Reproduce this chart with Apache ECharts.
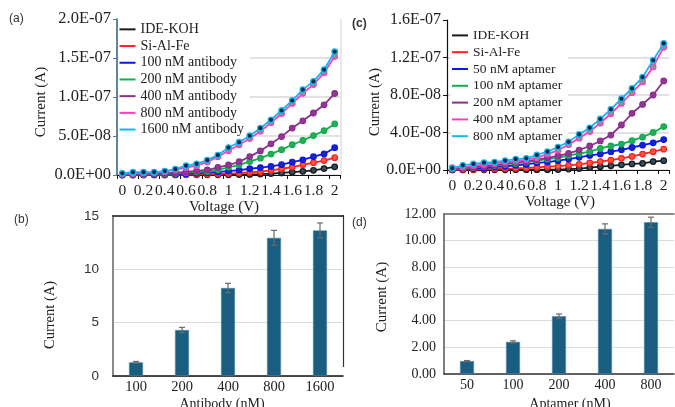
<!DOCTYPE html>
<html>
<head>
<meta charset="utf-8">
<script src="https://cdn.jsdelivr.net/npm/echarts@6/dist/echarts.min.js"></script>
<style>
html,body{margin:0;padding:0;background:#fff;}
#chart{width:675px;height:407px;}
</style>
</head>
<body>
<div id="chart"></div>
<script>
// ---------- DATA ----------
const voltages = ['0','0.1','0.2','0.3','0.4','0.5','0.6','0.7','0.8','0.9','1','1.1','1.2','1.3','1.4','1.5','1.6','1.7','1.8','1.9','2'];
const UNIT = 1e-8; // values below are in units of 1e-8 A

// panel (a)
const antibodyNames = ['IDE-KOH','Si-Al-Fe','100 nM antibody','200 nM antibody','400 nM antibody','800 nM antibody','1600 nM antibody'];
const ideKohA = [0.00,0.00,0.01,0.01,0.01,0.01,0.02,0.02,0.02,0.03,0.03,0.05,0.08,0.12,0.18,0.27,0.38,0.47,0.60,0.82,1.05];
const siAlFeA = [0.01,0.01,0.02,0.02,0.03,0.04,0.05,0.07,0.10,0.14,0.19,0.25,0.32,0.42,0.58,0.80,1.02,1.30,1.58,1.85,2.22];
const ab100 = [0.03,0.05,0.06,0.08,0.10,0.13,0.17,0.22,0.30,0.40,0.50,0.62,0.80,0.95,1.10,1.32,1.65,1.95,2.35,2.70,3.50];
const ab200 = [0.05,0.07,0.09,0.12,0.16,0.22,0.30,0.40,0.45,0.66,0.98,1.30,1.72,2.16,2.68,3.25,3.88,4.42,5.05,5.67,6.55];
const ab400 = [0.10,0.12,0.14,0.17,0.22,0.30,0.40,0.52,0.64,0.98,1.28,1.70,2.36,3.09,4.00,4.92,6.02,6.95,7.95,9.00,10.45];
const ab800 = [0.17,0.22,0.26,0.30,0.43,0.65,0.95,1.20,1.68,2.33,3.10,3.87,4.67,5.60,6.70,7.88,9.18,10.48,11.60,13.10,15.20];
const ab1600 = [0.22,0.35,0.36,0.38,0.50,0.75,1.20,1.43,1.90,2.55,3.52,4.20,5.03,6.00,7.08,8.27,9.55,10.95,12.00,13.50,15.80];

// panel (c)
const aptamerNames = ['IDE-KOH','Si-Al-Fe','50 nM aptamer','100 nM aptamer','200 nM aptamer','400 nM aptamer','800 nM aptamer'];
const ideKohC = [0.01,0.01,0.02,0.02,0.02,0.02,0.03,0.03,0.03,0.04,0.05,0.10,0.15,0.25,0.35,0.45,0.55,0.65,0.70,0.90,1.00];
const siAlFeC = [0.03,0.05,0.08,0.10,0.12,0.15,0.18,0.22,0.28,0.35,0.42,0.50,0.60,0.75,0.90,1.05,1.25,1.45,1.70,1.95,2.22];
const apt50 = [0.05,0.10,0.15,0.20,0.30,0.40,0.50,0.60,0.75,0.85,1.00,1.15,1.35,1.55,1.70,1.95,2.15,2.40,2.65,2.90,3.25];
const apt100 = [0.10,0.15,0.25,0.35,0.45,0.60,0.70,0.85,1.00,1.15,1.30,1.55,1.75,1.95,2.30,2.56,2.77,3.13,3.50,4.00,4.63];
const apt200 = [0.20,0.20,0.30,0.40,0.50,0.70,0.80,0.90,1.10,1.30,1.50,1.78,2.13,2.56,3.10,3.73,4.80,6.05,7.00,8.00,9.50];
const apt400 = [0.25,0.30,0.45,0.60,0.70,0.85,0.95,1.10,1.30,1.70,2.10,2.70,3.40,4.10,5.00,6.00,7.10,8.25,9.40,11.00,13.10];
const apt800 = [0.20,0.50,0.65,0.78,0.85,1.00,1.15,1.25,1.60,1.95,2.45,3.00,3.80,4.50,5.44,6.47,7.60,8.70,9.90,11.70,13.50];

// panel (b)
const antibodyCats = ['100','200','400','800','1600'];
const antibodyCurrent = [1.28,4.31,8.25,12.95,13.65];
const antibodyErr = [0.08,0.25,0.44,0.70,0.70];

// panel (d)
const aptamerCats = ['50','100','200','400','800'];
const aptamerCurrent = [0.97,2.41,4.33,10.88,11.38];
const aptamerErr = [0.04,0.08,0.17,0.38,0.38];

// tick labels
const antibodyYTicks = [0, 5, 10, 15];

// ---------- STYLE ----------
const lineColors = ['#1a1a1a','#ff1f1f','#0a14ff','#0db14b','#8b2f8f','#ff3cc8','#19b4ee'];
const markerFills = ['#2f4f63','#ff5a3c','#1a2a9a','#2ea85a','#93369a','#7f9f78','#0b2a4a'];
const SERIF = '"Liberation Serif","Times New Roman",serif';
const SANS = '"Liberation Sans",Arial,sans-serif';
const barColor = '#195d80';

function sci(v){
  if (Math.abs(v) < 1e-20) return '0.0E+00';
  let e = Math.floor(Math.log10(Math.abs(v)) + 1e-9);
  let s = (v/Math.pow(10,e)).toFixed(1);
  if (s === '10.0'){ s = '1.0'; e += 1; }
  return s + 'E' + (e < 0 ? '-' : '+') + String(Math.abs(e)).padStart(2,'0');
}

const seriesA = [ideKohA, siAlFeA, ab100, ab200, ab400, ab800, ab1600];
const seriesC = [ideKohC, siAlFeC, apt50, apt100, apt200, apt400, apt800];

function lineSeries(names, arrs, axisIdx){
  return arrs.map((arr, i) => ({
    type: 'line',
    name: names[i],
    xAxisIndex: axisIdx, yAxisIndex: axisIdx,
    data: arr.map(v => v * UNIT),
    symbol: 'circle', symbolSize: 5.5, showAllSymbol: true,
    lineStyle: {color: lineColors[i], width: 1.8},
    itemStyle: {color: markerFills[i], borderColor: lineColors[i], borderWidth: 1.3},
    emphasis: {disabled: true},
    animation: false,
    z: 2 + i
  }));
}

function errSeries(values, errs, axisIdx){
  return {
    type: 'custom',
    xAxisIndex: axisIdx, yAxisIndex: axisIdx,
    data: values.map((v, i) => [i, v, errs[i]]),
    encode: {x: 0, y: 1},
    z: 10,
    renderItem: function(params, api){
      const i = api.value(0), v = api.value(1), e = api.value(2);
      const top = api.coord([i, v + e]);
      const bot = api.coord([i, v - e]);
      const w = 3;
      const st = {stroke: '#6b6b6b', lineWidth: 1.2};
      return {type: 'group', children: [
        {type: 'line', shape: {x1: top[0], y1: top[1], x2: bot[0], y2: bot[1]}, style: st},
        {type: 'line', shape: {x1: top[0]-w, y1: top[1], x2: top[0]+w, y2: top[1]}, style: st},
        {type: 'line', shape: {x1: bot[0]-w, y1: bot[1], x2: bot[0]+w, y2: bot[1]}, style: st}
      ]};
    },
    animation: false
  };
}

function legendData(names){
  return names.map((n, i) => ({name: n, itemStyle: {color: lineColors[i], borderWidth: 0}}));
}

const gridLine = '#d9d9d9';

const option = {
  backgroundColor: '#fff',
  animation: false,
  grid: [
    {left: 117, top: 19, width: 223, height: 156},
    {left: 447, top: 20, width: 222, height: 150},
    {left: 113, top: 216, width: 230, height: 160},
    {left: 444, top: 214, width: 230, height: 160}
  ],
  legend: [
    {
      orient: 'vertical', left: 118.5, top: 20, data: legendData(antibodyNames),
      icon: 'rect', itemWidth: 16, itemHeight: 2, itemGap: 0,
      backgroundColor: '#fff', padding: [1, 6, 1, 1],
      itemStyle: {borderWidth: 0},
      textStyle: {fontFamily: SERIF, fontSize: 14, color: '#222', lineHeight: 16.7},
      selectedMode: false
    },
    {
      orient: 'vertical', left: 451, top: 26, data: legendData(aptamerNames),
      icon: 'rect', itemWidth: 16, itemHeight: 2, itemGap: 0,
      backgroundColor: '#fff', padding: [1, 6, 1, 1],
      itemStyle: {borderWidth: 0},
      textStyle: {fontFamily: SERIF, fontSize: 13.5, color: '#222', lineHeight: 16.8},
      selectedMode: false
    }
  ],
  xAxis: [
    {gridIndex: 0, type: 'category', data: voltages, boundaryGap: true,
     axisLine: {lineStyle: {color: '#111', width: 1.2}},
     axisTick: {show: true, inside: false, length: 4, lineStyle: {color: '#111'}},
     axisLabel: {interval: 1, fontFamily: SERIF, fontSize: 15.5, color: '#222', margin: 8},
     splitLine: {show: false}},
    {gridIndex: 1, type: 'category', data: voltages, boundaryGap: true,
     axisLine: {lineStyle: {color: '#111', width: 1.2}},
     axisTick: {show: true, inside: false, length: 4, lineStyle: {color: '#111'}},
     axisLabel: {interval: 1, fontFamily: SERIF, fontSize: 15.5, color: '#222', margin: 8},
     splitLine: {show: false}},
    {gridIndex: 2, type: 'category', data: antibodyCats,
     axisLine: {lineStyle: {color: '#111', width: 1.5}},
     axisTick: {show: false},
     axisLabel: {fontFamily: SERIF, fontSize: 14.5, color: '#222', margin: 4}},
    {gridIndex: 3, type: 'category', data: aptamerCats,
     axisLine: {lineStyle: {color: '#333', width: 1.5}},
     axisTick: {show: false},
     axisLabel: {fontFamily: SERIF, fontSize: 14, color: '#222', margin: 4}},
    // top border lines for (b) and (d)
    {gridIndex: 2, type: 'category', position: 'top', data: antibodyCats,
     axisLine: {lineStyle: {color: '#111', width: 1.5}}, axisTick: {show: false}, axisLabel: {show: false}},
    {gridIndex: 3, type: 'category', position: 'top', data: aptamerCats,
     axisLine: {lineStyle: {color: '#666', width: 1.5}}, axisTick: {show: false}, axisLabel: {show: false}}
  ],
  yAxis: [
    {gridIndex: 0, type: 'value', min: 0, max: 2e-7, interval: 5e-8,
     axisLine: {show: true, lineStyle: {color: '#2d5d7b', width: 1.5}},
     axisTick: {show: true, length: 4, lineStyle: {color: '#4d7d9b'}},
     axisLabel: {formatter: sci, fontFamily: SERIF, fontSize: 16.5, color: '#222', margin: 6},
     splitLine: {show: true, showMaxLine: false, lineStyle: {color: gridLine, width: 1.5}}},
    {gridIndex: 1, type: 'value', min: 0, max: 1.6e-7, interval: 4e-8,
     axisLine: {show: true, lineStyle: {color: '#111', width: 1.2}},
     axisTick: {show: true, length: 4, lineStyle: {color: '#111'}},
     axisLabel: {formatter: sci, fontFamily: SERIF, fontSize: 16, color: '#222', margin: 6},
     splitLine: {show: true, showMaxLine: false, lineStyle: {color: gridLine, width: 1.5}}},
    {gridIndex: 2, type: 'value', min: antibodyYTicks[0], max: antibodyYTicks[antibodyYTicks.length-1], interval: 5,
     axisLine: {show: true, lineStyle: {color: '#8a8a8a', width: 2}},
     axisTick: {show: false},
     axisLabel: {fontFamily: SANS, fontSize: 13.5, color: '#333', margin: 14},
     splitLine: {show: true, showMaxLine: false, lineStyle: {color: '#dcdcdc', width: 1.2}}},
    {gridIndex: 3, type: 'value', min: 0, max: 12, interval: 2,
     axisLine: {show: true, lineStyle: {color: '#555', width: 1.5}},
     axisTick: {show: false},
     axisLabel: {formatter: v => v.toFixed(2), fontFamily: SERIF, fontSize: 14, color: '#222', margin: 8},
     splitLine: {show: true, showMaxLine: false, lineStyle: {color: '#dcdcdc', width: 1.2}}}
  ],
  series: [
    ...lineSeries(antibodyNames, seriesA, 0),
    ...lineSeries(aptamerNames, seriesC, 1),
    {type: 'bar', xAxisIndex: 2, yAxisIndex: 2, data: antibodyCurrent, barWidth: 14,
     itemStyle: {color: barColor, borderColor: '#4f87a8', borderWidth: 0.6}, animation: false, z: 3},
    errSeries(antibodyCurrent, antibodyErr, 2),
    {type: 'bar', xAxisIndex: 3, yAxisIndex: 3, data: aptamerCurrent, barWidth: 14,
     itemStyle: {color: barColor, borderColor: '#4f87a8', borderWidth: 0.6}, animation: false, z: 3},
    errSeries(aptamerCurrent, aptamerErr, 3)
  ],
  graphic: [
    // panel labels
    {type: 'text', left: 9, top: 13, style: {text: '(a)', font: '12px ' + SANS, fill: '#333'}},
    {type: 'text', left: 14, top: 214, style: {text: '(b)', font: '12px ' + SANS, fill: '#333'}},
    {type: 'text', left: 352, top: 18, style: {text: '(c)', font: 'bold 12px ' + SANS, fill: '#333'}},
    {type: 'text', left: 352, top: 217, style: {text: '(d)', font: '12px ' + SANS, fill: '#333'}},
    // axis titles
    {type: 'text', x: 41, y: 102, rotation: Math.PI/2, style: {text: 'Current (A)', font: '15px ' + SERIF, fill: '#222', align: 'center', verticalAlign: 'middle'}},
    {type: 'text', x: 50, y: 315, rotation: Math.PI/2, style: {text: 'Current (A)', font: '14.5px ' + SERIF, fill: '#222', align: 'center', verticalAlign: 'middle'}},
    {type: 'text', x: 375, y: 102, rotation: Math.PI/2, style: {text: 'Current (A)', font: '14.5px ' + SERIF, fill: '#222', align: 'center', verticalAlign: 'middle'}},
    {type: 'text', x: 382, y: 297, rotation: Math.PI/2, style: {text: 'Current (A)', font: '15px ' + SERIF, fill: '#222', align: 'center', verticalAlign: 'middle'}},
    {type: 'text', x: 224, y: 207, style: {text: 'Voltage (V)', font: '15px ' + SERIF, fill: '#222', align: 'center', verticalAlign: 'middle'}},
    {type: 'text', x: 560, y: 202, style: {text: 'Voltage (V)', font: '15px ' + SERIF, fill: '#222', align: 'center', verticalAlign: 'middle'}},
    {type: 'text', x: 222, y: 404, style: {text: 'Antibody (nM)', font: '14px ' + SERIF, fill: '#222', align: 'center', verticalAlign: 'middle'}},
    {type: 'text', x: 570, y: 404, style: {text: 'Aptamer (nM)', font: '14px ' + SERIF, fill: '#222', align: 'center', verticalAlign: 'middle'}},
    // panel frame remnants
    {type: 'line', shape: {x1: 341, y1: 19, x2: 341, y2: 176}, style: {stroke: '#d0d0d0', lineWidth: 1}},
    {type: 'line', shape: {x1: 343.5, y1: 215, x2: 343.5, y2: 367}, style: {stroke: '#333', lineWidth: 1.2}}
  ]
};

const chart = echarts.init(document.getElementById('chart'), null, {renderer: 'canvas'});
chart.setOption(option);
</script>
</body>
</html>
